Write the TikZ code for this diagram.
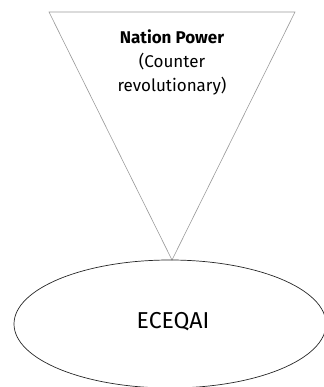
\documentclass[tikz,border=0pt]{standalone}
\usepackage{fontspec}
\setmainfont{Fira Sans}
\usetikzlibrary{shapes.geometric}
\begin{document}
\begin{tikzpicture}[x=1pt, y=-1pt,
	tri/.style={draw=gray!80, line width=0.6pt},
	oval/.style={ellipse, draw=black!85, line width=0.7pt, minimum width=312pt, minimum height=128pt, inner sep=0pt},
	lbl/.style={align=center, font=\fontsize{17}{24}\selectfont}]
	\useasboundingbox (0, 0) rectangle (323, 387);
	\coordinate (tl) at (49, 12);
	\coordinate (tr) at (295, 12);
	\coordinate (apex) at (172, 260);
	\draw[tri] (tl) -- (tr) -- (apex) -- cycle;
	\node[lbl] (nation) at (172, 62) {\textbf{Nation Power}\\(Counter\\revolutionary)};
	\node[oval] (eceqai) at (170, 324) {};
	\node[font=\fontsize{23}{28}\selectfont] (eceqailbl) at (173, 322) {ECEQAI};
\end{tikzpicture}
\end{document}
